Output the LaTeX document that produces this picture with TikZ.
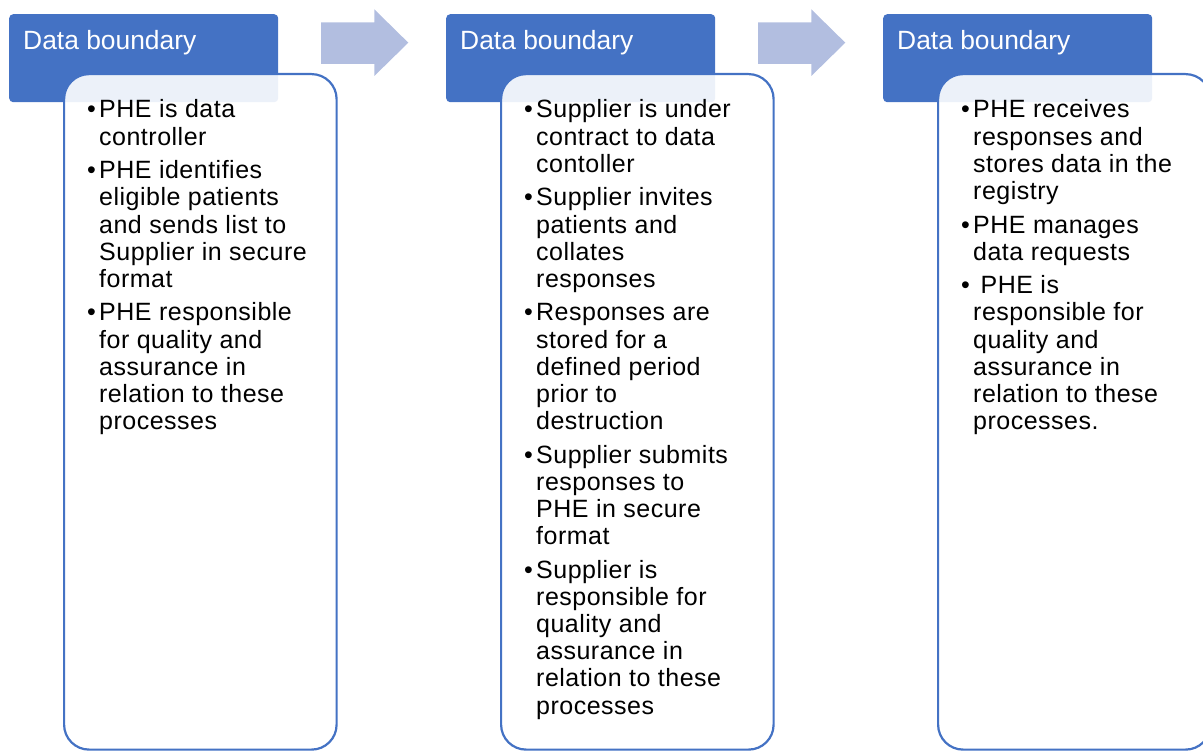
\documentclass[tikz,border=0pt]{standalone}
\usepackage{fontspec}
\setmainfont{Liberation Sans}
\newfontfamily\bodyfont[LetterSpace=2]{Liberation Sans}
\definecolor{hdr}{HTML}{4472C4}
\definecolor{arr}{HTML}{B2BEE0}
\newcommand\itm[1]{\hbox{\hbox to 12bp{\textbullet\hfil}#1}}
\newcommand\cnt[1]{\hbox{\hskip12bp #1}}
\newcommand\igap{\vskip6.2bp}
\newcommand\blist[1]{\vtop{\bodyfont\fontsize{25bp}{27.2bp}\selectfont\baselineskip=27.2bp\lineskiplimit=-50bp #1}}
\tikzset{
  hdrbox/.style={fill=hdr, rounded corners=4bp, minimum width=269bp, minimum height=88bp, anchor=north west, inner sep=0, draw=none},
  cbox/.style={fill=white, fill opacity=0.9, draw=hdr, line width=2.2bp, rounded corners=25bp, minimum width=272.5bp, minimum height=675.5bp, anchor=north west, inner sep=0},
  hdrtext/.style={anchor=base west, inner sep=0, text=white, font=\fontsize{26.4bp}{30bp}\selectfont},
  bodytext/.style={anchor=base west, inner sep=0, text=black},
  blockarrow/.style={fill=arr}
}
\begin{document}
\begin{tikzpicture}[x=1bp,y=-1bp]
\useasboundingbox (0,0) rectangle (1203,752);
\clip (0,0) rectangle (1203,752);
% headers
\node[hdrbox] (h1) at (9,14) {};
\node[hdrbox] (h2) at (446,14) {};
\node[hdrbox] (h3) at (883,14) {};
% block arrows
\fill[blockarrow] (321,22.3) -- (374.3,22.3) -- (374.3,9.3) -- (408.3,42.7) -- (374.3,76) -- (374.3,64) -- (321,64) -- cycle;
\fill[blockarrow] (758,22.3) -- (811.3,22.3) -- (811.3,9.3) -- (845.3,42.7) -- (811.3,76) -- (811.3,64) -- (758,64) -- cycle;
% content boxes
\node[cbox] (c1) at (63,73) {};
\node[cbox] (c2) at (500,73) {};
\node[cbox] (c3) at (937,73) {};
% header texts
\node[hdrtext] (ht1) at (23,50) {Data boundary};
\node[hdrtext] (ht2) at (460,50) {Data boundary};
\node[hdrtext] (ht3) at (897,50) {Data boundary};
% body texts
\node[bodytext] (t1) at (87,118) {\blist{%
\itm{PHE is data}\cnt{controller}\igap
\itm{PHE identifies}\cnt{eligible patients}\cnt{and sends list to}\cnt{Supplier in secure}\cnt{format}\igap
\itm{PHE responsible}\cnt{for quality and}\cnt{assurance in}\cnt{relation to these}\cnt{processes}}};
\node[bodytext] (t2) at (524,118) {\blist{%
\itm{Supplier is under}\cnt{contract to data}\cnt{contoller}\igap
\itm{Supplier invites}\cnt{patients and}\cnt{collates}\cnt{responses}\igap
\itm{Responses are}\cnt{stored for a}\cnt{defined period}\cnt{prior to}\cnt{destruction}\igap
\itm{Supplier submits}\cnt{responses to}\cnt{PHE in secure}\cnt{format}\igap
\itm{Supplier is}\cnt{responsible for}\cnt{quality and}\cnt{assurance in}\cnt{relation to these}\cnt{processes}}};
\node[bodytext] (t3) at (961,118) {\blist{%
\itm{PHE receives}\cnt{responses and}\cnt{stores data in the}\cnt{registry}\igap
\itm{PHE manages}\cnt{data requests}\igap
\itm{\ PHE is}\cnt{responsible for}\cnt{quality and}\cnt{assurance in}\cnt{relation to these}\cnt{processes.}}};
\end{tikzpicture}
\end{document}
